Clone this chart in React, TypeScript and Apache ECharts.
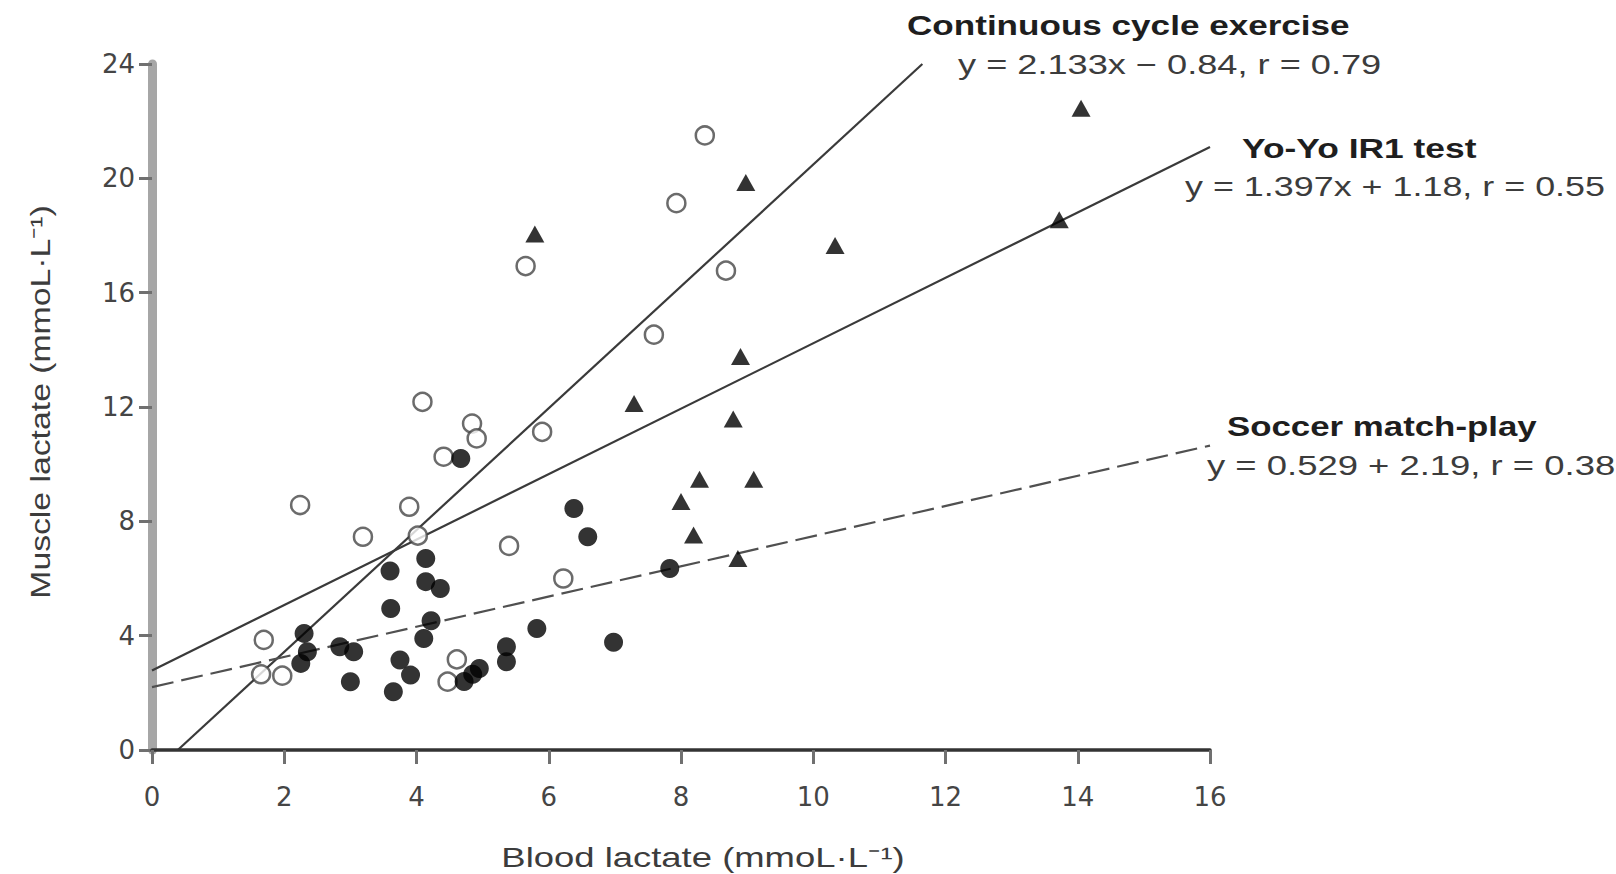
import { useEffect, useRef } from "react";
import * as echarts from "echarts";

// Continuous cycle exercise (open circles)
const cycleData: [number, number][] = [
  [8.36, 21.5], [7.93, 19.13], [5.65, 16.93], [8.68, 16.77], [7.59, 14.53],
  [4.09, 12.18], [4.84, 11.42], [4.91, 10.9], [5.9, 11.13], [4.41, 10.26],
  [2.24, 8.57], [3.89, 8.51], [3.19, 7.46], [4.02, 7.5], [5.4, 7.14],
  [6.22, 6.0], [1.69, 3.85], [1.65, 2.65], [1.97, 2.6], [4.61, 3.17], [4.47, 2.39],
];

// Soccer match-play (filled circles)
const soccerData: [number, number][] = [
  [4.67, 10.2], [6.38, 8.45], [6.59, 7.46], [3.6, 6.26], [4.14, 6.7],
  [4.14, 5.89], [4.36, 5.65], [3.61, 4.95], [4.22, 4.52], [4.11, 3.9],
  [5.82, 4.25], [2.3, 4.08], [2.35, 3.44], [2.25, 3.03], [2.84, 3.61],
  [3.05, 3.44], [3.0, 2.39], [3.75, 3.15], [3.91, 2.62], [3.65, 2.04],
  [4.72, 2.4], [4.85, 2.65], [4.95, 2.85], [5.36, 3.61], [5.36, 3.09],
  [6.98, 3.77], [7.83, 6.35],
];

// Yo-Yo IR1 test (filled triangles)
const yoyoData: [number, number][] = [
  [14.05, 22.45], [8.98, 19.85], [5.79, 18.05], [10.33, 17.65], [13.72, 18.55],
  [8.9, 13.77], [7.29, 12.12], [8.79, 11.58], [8.28, 9.47], [9.1, 9.47],
  [8.0, 8.69], [8.19, 7.52], [8.86, 6.7],
];

// Regression lines (end points)
const cycleFit: [number, number][] = [[0.39, 0], [11.65, 24]];
const yoyoFit: [number, number][] = [[0, 2.78], [16, 21.1]];
const soccerFit: [number, number][] = [[0, 2.2], [16, 10.65]];

const xMin = 0, xMax = 16, xStep = 2;
const yMin = 0, yMax = 24, yStep = 4;

const xTitle = "Blood lactate (mmoL·L⁻¹)";
const yTitle = "Muscle lactate (mmoL·L⁻¹)";
const cycleName = "Continuous cycle exercise";
const cycleEq = "y = 2.133x − 0.84, r = 0.79";
const yoyoName = "Yo-Yo IR1 test";
const yoyoEq = "y = 1.397x + 1.18, r = 0.55";
const soccerName = "Soccer match-play";
const soccerEq = "y = 0.529 + 2.19, r = 0.38";

const FONT = '"Liberation Sans", Arial, Helvetica, sans-serif';

function txt(text: string, x: number, y: number, bold: boolean, sx: number, extra: any = {}) {
  const font = `${bold ? "bold " : ""}27px ${FONT}`;
  return {
    type: "text",
    x,
    y,
    scaleX: sx,
    z: 10,
    ...extra,
    style: {
      text,
      fill: bold ? "#1e1e1e" : "#3c3c3c",
      font,
      align: extra.align || "left",
      textAlign: extra.align || "left",
      verticalAlign: "middle",
      textVerticalAlign: "middle",
    },
  };
}

export default function App() {
  const ref = useRef<HTMLDivElement>(null);
  useEffect(() => {
    if (!ref.current) return;
    const chart = echarts.init(ref.current, null, { renderer: "svg" });
    const lineBase = { type: "line", symbol: "none", silent: true, z: 2 };
    chart.setOption({
      animation: false,
      backgroundColor: "#ffffff",
      grid: { left: 152, right: 406, top: 64, bottom: 124 },
      xAxis: {
        type: "value",
        min: xMin,
        max: xMax,
        interval: xStep,
        z: 3,
        splitLine: { show: false },
        axisLine: { show: true, onZero: false, lineStyle: { color: "#333333", width: 3.5 } },
        axisTick: { show: true, inside: false, length: 14, lineStyle: { color: "#707070", width: 3 } },
        axisLabel: { margin: 34, color: "#454545", fontSize: 26, fontFamily: '"DejaVu Sans", sans-serif' },
      },
      yAxis: {
        type: "value",
        min: yMin,
        max: yMax,
        interval: yStep,
        z: 2,
        splitLine: { show: false },
        axisLine: { show: true, onZero: false, lineStyle: { color: "#a6a6a6", width: 9 } },
        axisTick: { show: true, inside: false, length: 13, lineStyle: { color: "#707070", width: 3 } },
        axisLabel: { margin: 17, color: "#454545", fontSize: 26, fontFamily: '"DejaVu Sans", sans-serif' },
      },
      series: [
        { ...lineBase, name: "cycle fit", data: cycleFit, lineStyle: { color: "#3a3a3a", width: 2.2 } },
        { ...lineBase, name: "yoyo fit", data: yoyoFit, lineStyle: { color: "#3a3a3a", width: 2.2 } },
        {
          ...lineBase,
          name: "soccer fit",
          data: soccerFit,
          lineStyle: { color: "#505050", width: 2.2, type: [22, 8] },
        },
        {
          type: "scatter",
          name: cycleName,
          data: cycleData,
          symbol: "circle",
          symbolSize: 18,
          z: 3,
          itemStyle: { color: "#ffffff", borderColor: "#464646", borderWidth: 2.5 },
        },
        {
          type: "scatter",
          name: soccerName,
          data: soccerData,
          symbol: "circle",
          symbolSize: 19,
          z: 4,
          itemStyle: { color: "#000000" },
        },
        {
          type: "scatter",
          name: yoyoName,
          data: yoyoData,
          symbol: "triangle",
          symbolSize: [19, 17],
          z: 5,
          itemStyle: { color: "#000000" },
        },
      ],
      graphic: [
        txt(cycleName, 907, 26, true, 1.3),
        txt(cycleEq, 958, 65, false, 1.34),
        txt(yoyoName, 1242, 149, true, 1.31),
        txt(yoyoEq, 1185, 187, false, 1.33),
        txt(soccerName, 1227, 427, true, 1.29),
        txt(soccerEq, 1207, 466, false, 1.35),
        txt(xTitle, 703, 858, false, 1.35, { align: "center" }),
        txt(yTitle, 40, 402, false, 1.25, { align: "center", rotation: Math.PI / 2 }),
      ],
    });
    return () => chart.dispose();
  }, []);
  return (
    <div
      ref={ref}
      style={{ position: "fixed", left: 0, top: 0, width: 1616, height: 874, background: "#fff" }}
    />
  );
}
